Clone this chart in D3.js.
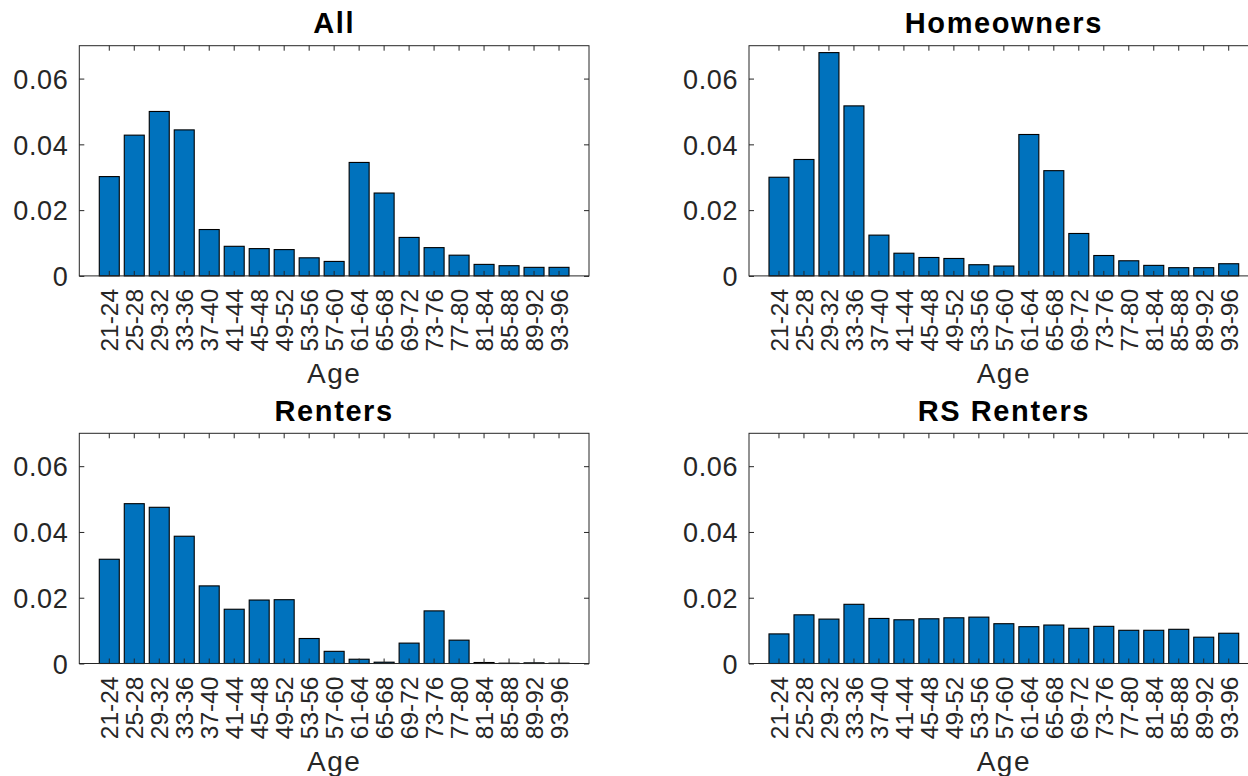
<!DOCTYPE html>
<html>
<head>
<meta charset="utf-8">
<script src="https://cdn.jsdelivr.net/npm/d3@7"></script>
<style>
  body { margin: 0; background: #fff; }
  svg { display: block; font-family: "Liberation Sans", Arial, sans-serif; }
</style>
</head>
<body>
<svg id="chart" width="1248" height="776"></svg>
<script>
// age groups on the x axis
const ageGroups = ['21-24','25-28','29-32','33-36','37-40','41-44','45-48','49-52','53-56','57-60',
  '61-64','65-68','69-72','73-76','77-80','81-84','85-88','89-92','93-96'];

// shares per age group
const allShares = [0.0302, 0.0428, 0.0500, 0.0444, 0.0141, 0.0090, 0.0083, 0.0080, 0.0055, 0.0044,
  0.0345, 0.0252, 0.0117, 0.0086, 0.0063, 0.0035, 0.0031, 0.0026, 0.0026];
const homeownerShares = [0.0300, 0.0354, 0.0679, 0.0517, 0.0124, 0.0069, 0.0056, 0.0053, 0.0034, 0.0030,
  0.0430, 0.0320, 0.0129, 0.0062, 0.0046, 0.0032, 0.0025, 0.0025, 0.0037];
const renterShares = [0.0317, 0.0486, 0.0475, 0.0387, 0.0236, 0.0165, 0.0193, 0.0194, 0.0076, 0.0037,
  0.0013, 0.0004, 0.0062, 0.0160, 0.0071, 0.0003, 0.0001, 0.0002, 0.0001];
const rsRenterShares = [0.0090, 0.0148, 0.0135, 0.0180, 0.0137, 0.0133, 0.0136, 0.0139, 0.0141, 0.0121,
  0.0112, 0.0117, 0.0107, 0.0113, 0.0101, 0.0101, 0.0104, 0.0080, 0.0092];

const yTicks = [0, 0.02, 0.04, 0.06];
const yTickLabels = ['0', '0.02', '0.04', '0.06'];
const yMax = 0.07;

const panels = [
  { title: 'All', values: allShares, left: 79.3, top: 45.7 },
  { title: 'Homeowners', values: homeownerShares, left: 749, top: 45.7 },
  { title: 'Renters', values: renterShares, left: 79.3, top: 433.3 },
  { title: 'RS Renters', values: rsRenterShares, left: 749, top: 433.3 }
];

const svg = d3.select('#chart');
const w = 509.7, h = 230.2;
const axisColor = '#262626';

panels.forEach(p => {
  const g = svg.append('g').attr('transform', `translate(${p.left},${p.top})`);

  // xlim is 0.8 step beyond the outer bars, bar width 0.8
  const x = d3.scaleBand().domain(ageGroups).range([0, w]).paddingInner(0.2).paddingOuter(0.8);
  const y = d3.scaleLinear().domain([0, yMax]).range([h, 0]);

  g.selectAll('.bar')
    .data(p.values)
    .enter()
    .append('rect')
    .attr('class', 'bar')
    .attr('x', (d, i) => x(ageGroups[i]))
    .attr('y', d => y(d))
    .attr('width', x.bandwidth())
    .attr('height', d => h - y(d))
    .style('fill', '#0072BD')
    .style('stroke', '#000')
    .style('stroke-width', 1.1);

  // box
  g.append('rect')
    .attr('width', w).attr('height', h)
    .style('fill', 'none').style('stroke', axisColor).style('stroke-width', 1);

  // bottom axis, inward ticks, rotated labels
  const xb = g.append('g')
    .attr('transform', `translate(0,${h})`)
    .call(d3.axisBottom(x).tickSize(-5).tickSizeOuter(0));
  xb.select('.domain').remove();
  xb.selectAll('line').attr('stroke', axisColor);
  xb.selectAll('text')
    .attr('transform', 'rotate(-90)')
    .attr('x', -13)
    .attr('y', 0)
    .attr('dy', '0.36em')
    .style('text-anchor', 'end')
    .style('font-size', '24.5px')
    .style('fill', axisColor);

  // top ticks
  const xt = g.append('g').call(d3.axisTop(x).tickSize(-5).tickSizeOuter(0).tickFormat(''));
  xt.select('.domain').remove();
  xt.selectAll('line').attr('stroke', axisColor);

  // left axis
  const yl = g.append('g')
    .call(d3.axisLeft(y).tickValues(yTicks).tickSize(-5).tickPadding(11)
      .tickFormat((d, i) => yTickLabels[i]));
  yl.select('.domain').remove();
  yl.selectAll('line').attr('stroke', axisColor);
  yl.selectAll('text').style('font-size', '27px').style('letter-spacing', '0.6px')
    .style('fill', axisColor).attr('dy', '0.36em');

  // right ticks
  const yr = g.append('g').attr('transform', `translate(${w},0)`)
    .call(d3.axisRight(y).tickValues(yTicks).tickSize(-5).tickFormat(''));
  yr.select('.domain').remove();
  yr.selectAll('line').attr('stroke', axisColor);

  g.append('text')
    .attr('x', w / 2).attr('y', -12.4)
    .style('text-anchor', 'middle')
    .style('font-size', '29px').style('font-weight', 'bold')
    .style('letter-spacing', '1.6px').style('fill', '#000')
    .text(p.title);

  g.append('text')
    .attr('x', w / 2).attr('y', h + 107.5)
    .style('text-anchor', 'middle')
    .style('font-size', '28px').style('letter-spacing', '1.5px').style('fill', axisColor)
    .text('Age');
});
</script>
</body>
</html>
